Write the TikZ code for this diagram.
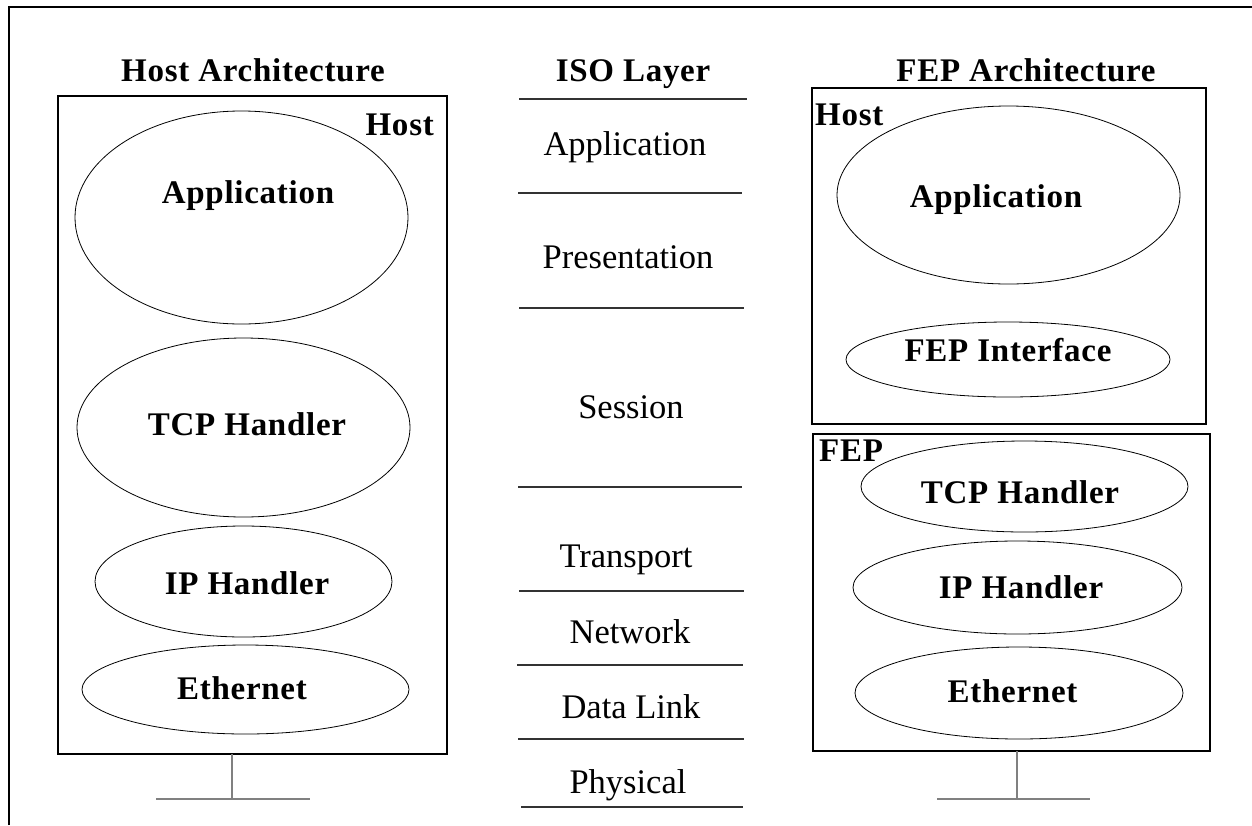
\documentclass[tikz,border=0pt]{standalone}
\usepackage{fontspec}
\setmainfont{Liberation Serif}
\newfontfamily\spacedbold[LetterSpace=2.2]{Liberation Serif Bold}
\usetikzlibrary{shapes.geometric}
\begin{document}
\begin{tikzpicture}[x=1pt,y=-1pt,
  frame/.style={line width=2.4pt,black},
  boxline/.style={draw,line width=1.5pt},
  oval/.style={draw,shape=ellipse,line width=0.8pt,inner sep=0pt},
  rule/.style={line width=1.6pt,black!80},
  stem/.style={line width=1.6pt,black!50},
  bold/.style={font=\fontsize{33}{36}\spacedbold,inner sep=0pt,anchor=base},
  plain/.style={font=\fontsize{34.5}{38}\selectfont,inner sep=0pt,anchor=base}]
\useasboundingbox (0,0) rectangle (1252,825);
\fill[white] (0,0) rectangle (1252,825);
% outer frame (top and left edges)
\draw[frame] (9,825) -- (9,7) -- (1252,7);

% headings
\node[bold] (hHost) at (253,81) {Host Architecture};
\node[bold] (hIso)  at (633,81) {ISO Layer};
\node[bold] (hFep)  at (1026,81) {FEP Architecture};

% ---------------- host architecture ----------------
\node[boxline,minimum width=389pt,minimum height=658pt,inner sep=0pt] (hostbox) at (252.5,425) {};
\node[bold,anchor=base east] (hostlbl) at (434,135) {Host};
\node[oval,minimum width=333pt,minimum height=213pt] (lApp) at (241.5,217.5) {};
\node[bold] (lAppT) at (248,203) {Application};
\node[oval,minimum width=333pt,minimum height=179pt] (lTcp) at (243.5,427.5) {};
\node[bold] (lTcpT) at (247,435) {TCP Handler};
\node[oval,minimum width=297pt,minimum height=111pt] (lIp) at (243.5,581.5) {};
\node[bold] (lIpT) at (247,594) {IP Handler};
\node[oval,minimum width=327pt,minimum height=89pt] (lEth) at (245.5,689.5) {};
\node[bold] (lEthT) at (242,699) {Ethernet};
\coordinate (lStemTop) at (232,754);
\coordinate (lStemBot) at (232,799);
\coordinate (lBusL) at (156,799);
\coordinate (lBusR) at (310,799);
\draw[stem] (lStemTop) -- (lStemBot);
\draw[stem] (lBusL) -- (lBusR);

% ---------------- ISO layers ----------------
\coordinate (r1a) at (519,99);  \coordinate (r1b) at (747,99);
\coordinate (r2a) at (518,193); \coordinate (r2b) at (742,193);
\coordinate (r3a) at (519,308); \coordinate (r3b) at (744,308);
\coordinate (r4a) at (518,487); \coordinate (r4b) at (742,487);
\coordinate (r5a) at (519,591); \coordinate (r5b) at (744,591);
\coordinate (r6a) at (517,665); \coordinate (r6b) at (743,665);
\coordinate (r7a) at (518,739); \coordinate (r7b) at (744,739);
\coordinate (r8a) at (521,807); \coordinate (r8b) at (743,807);
\foreach \i in {1,...,8} \draw[rule] (r\i a) -- (r\i b);
\node[plain] (isoApp)  at (625,155) {Application};
\node[plain] (isoPres) at (628,268) {Presentation};
\node[plain] (isoSess) at (631,418) {Session};
\node[plain] (isoTran) at (626,567) {Transport};
\node[plain] (isoNet)  at (630,643) {Network};
\node[plain] (isoDl)   at (631,718) {Data Link};
\node[plain] (isoPhy)  at (628,793) {Physical};

% ---------------- FEP architecture ----------------
\node[boxline,minimum width=394pt,minimum height=336pt,inner sep=0pt] (fhostbox) at (1009,256) {};
\node[bold,anchor=base west] (fhostlbl) at (815,125) {Host};
\node[oval,minimum width=343pt,minimum height=178pt] (rApp) at (1008.5,195) {};
\node[bold] (rAppT) at (996,207) {Application};
\node[oval,minimum width=324pt,minimum height=75pt] (rFep) at (1008,359.5) {};
\node[bold] (rFepT) at (1008,361) {FEP Interface};

\node[boxline,minimum width=397pt,minimum height=317pt,inner sep=0pt] (fepbox) at (1011.5,592.5) {};
\node[bold,anchor=base west] (feplbl) at (819,461) {FEP};
\node[oval,minimum width=327pt,minimum height=91pt] (rTcp) at (1024.5,486.5) {};
\node[bold] (rTcpT) at (1020,503) {TCP Handler};
\node[oval,minimum width=329pt,minimum height=93pt] (rIp) at (1017.5,587.5) {};
\node[bold] (rIpT) at (1021,598) {IP Handler};
\node[oval,minimum width=328pt,minimum height=92pt] (rEth) at (1019,693) {};
\node[bold] (rEthT) at (1012.5,702) {Ethernet};
\coordinate (rStemTop) at (1017,751);
\coordinate (rStemBot) at (1017,799);
\coordinate (rBusL) at (937,799);
\coordinate (rBusR) at (1090,799);
\draw[stem] (rStemTop) -- (rStemBot);
\draw[stem] (rBusL) -- (rBusR);
\end{tikzpicture}
\end{document}
